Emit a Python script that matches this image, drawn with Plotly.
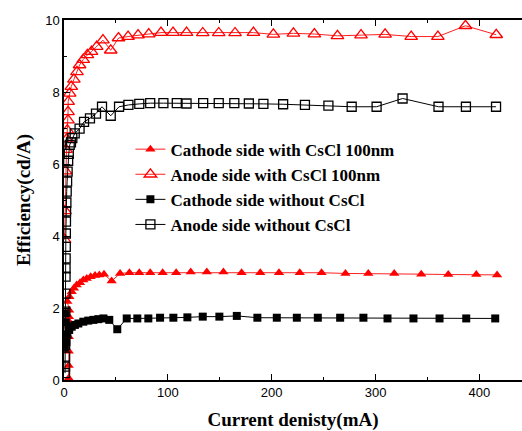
import plotly.graph_objects as go

# Cathode side with CsCl 100nm (filled red triangles)
cath_cs_x = [4.5, 4.5, 4.6, 4.7, 4.8, 4.9, 4.8, 5.0, 3.2, 5.2, 7.4, 9.6, 12.2, 15.4, 18.6, 21.9, 25.7, 29.9,
             34.0, 38.5, 45.9, 54, 63, 72.5, 83, 95, 108, 122, 137.5, 153.5, 171, 189, 207, 227, 248, 271,
             293, 318, 344, 370, 397, 417]
cath_cs_y = [0.05, 0.4, 0.8, 1.2, 1.5, 1.62, 1.76, 1.94, 2.18, 2.31, 2.45, 2.55, 2.64, 2.70, 2.78, 2.82, 2.87,
             2.90, 2.92, 2.94, 2.75, 2.96, 2.98, 2.98, 2.98, 2.98, 2.98, 3.00, 3.00, 3.00, 2.98, 2.98, 2.98,
             2.98, 2.98, 2.96, 2.96, 2.96, 2.94, 2.93, 2.93, 2.92]

# Anode side with CsCl 100nm (open red triangles)
an_cs_x = [0.6, 1.0, 1.5, 2.0, 2.6, 3.2, 3.8, 3.9, 4.0, 5.5, 7.0, 9.5, 12.5, 15, 18.5, 22.5, 26.5, 31.5,
           37.5, 45, 52.5, 61.7, 71.3, 81.6, 93.4, 105, 118, 133.6, 149, 164.7, 182.4, 201.6, 220.9, 241.1,
           263.3, 286, 309.2, 334.3, 360, 386.6, 416.2]
an_cs_y = [3.9, 4.7, 5.8, 6.4, 6.69, 6.94, 7.22, 7.45, 7.73, 7.96, 8.15, 8.35, 8.56, 8.75, 8.9, 9.03, 9.12, 9.26,
           9.44, 9.16, 9.5, 9.54, 9.58, 9.61, 9.65, 9.65, 9.65, 9.64, 9.64, 9.64, 9.65, 9.60, 9.63, 9.61,
           9.56, 9.58, 9.60, 9.54, 9.54, 9.84, 9.59]

# Cathode side without CsCl (filled black squares)
cath_x = [0.8, 1.2, 1.6, 2.0, 2.4, 3.2, 5.0, 7.4, 10.5, 13.8, 18.6, 23.4, 28.3, 33, 38, 43.6, 51.3, 60.4,
          70.6, 81.2, 92.5, 105.3, 118.8, 133.6, 149.6, 166.4, 186.2, 204.9, 224.2, 244.4, 265.9, 288.3,
          311.5, 336.5, 361.6, 387.3, 415.2]
cath_y = [0.9, 1.85, 1.6, 1.2, 1.06, 1.25, 1.39, 1.48, 1.53, 1.57, 1.62, 1.65, 1.67, 1.69, 1.71, 1.67, 1.41,
          1.71, 1.71, 1.71, 1.73, 1.73, 1.74, 1.76, 1.76, 1.78, 1.73, 1.73, 1.73, 1.73, 1.73, 1.73,
          1.71, 1.71, 1.71, 1.71, 1.71]

# Anode side without CsCl (open black squares)
an_x = [1.0, 1.0, 1.1, 1.1, 1.2, 1.3, 1.4, 1.5, 1.5, 1.6, 1.7, 1.8, 1.9, 2.0, 2.3, 2.6, 3.0, 3.5, 4.0, 4.6,
        5.5, 6.7, 8.0, 10.3, 15, 19.3, 25, 30.8, 36.6, 45, 53, 62, 72.5, 83, 95.7, 108.6, 118, 134, 149,
        164, 178, 192, 211, 232, 254.6, 277, 301, 326, 360.6, 387, 416]
an_y = [0.19, 0.37, 0.65, 0.97, 1.48, 1.9, 2.4, 2.87, 3.1, 3.38, 3.7, 4.07, 4.4, 4.68, 4.93, 5.23, 5.51, 5.79,
        6.09, 6.28, 6.53, 6.6, 6.72, 6.85, 6.98, 7.17, 7.27, 7.4, 7.59, 7.34, 7.59, 7.64, 7.67, 7.69, 7.69,
        7.69, 7.68, 7.69, 7.69, 7.69, 7.68, 7.67, 7.66, 7.64, 7.62, 7.59, 7.59, 7.82, 7.59, 7.59, 7.59]

names = ["Cathode side with CsCl 100nm", "Anode side with CsCl 100nm",
         "Cathode side without CsCl", "Anode side without CsCl"]

fig = go.Figure()
RED = "#ff2020"
fig.add_trace(go.Scatter(x=cath_cs_x, y=cath_cs_y, name=names[0], mode="lines+markers",
                         line=dict(color=RED, width=1),
                         marker=dict(symbol="triangle-up", size=9, color="red")))
fig.add_trace(go.Scatter(x=an_cs_x, y=an_cs_y, name=names[1], mode="lines+markers",
                         line=dict(color=RED, width=1),
                         marker=dict(symbol="triangle-up-open", size=11, color="red", line=dict(width=1.3))))
fig.add_trace(go.Scatter(x=cath_x, y=cath_y, name=names[2], mode="lines+markers",
                         line=dict(color="black", width=1),
                         marker=dict(symbol="square", size=8, color="black")))
fig.add_trace(go.Scatter(x=an_x, y=an_y, name=names[3], mode="lines+markers",
                         line=dict(color="black", width=1),
                         marker=dict(symbol="square-open", size=9, color="black", line=dict(width=1.3))))

axis_common = dict(showgrid=False, zeroline=False, showline=True, linecolor="black", linewidth=1.5,
                   ticks="inside", tickcolor="black", ticklen=6, tickwidth=1.2,
                   tickfont=dict(family="Liberation Sans, Arial", size=13, color="black"))
title_font = dict(family="Liberation Serif, Times New Roman", size=19, color="black")

fig.update_xaxes(range=[0, 441], dtick=100, tick0=0, mirror="ticks",
                 minor=dict(dtick=50, ticks="inside", ticklen=3, tickcolor="black"),
                 title=dict(text="<b>Current denisty(mA)</b>", standoff=16, font=title_font),
                 **axis_common)
fig.update_yaxes(range=[0, 10], dtick=2, tick0=0, mirror=False,
                 minor=dict(dtick=1, ticks="inside", ticklen=3, tickcolor="black"),
                 title=dict(text="<b>Efficiency(cd/A)</b>", standoff=10, font=title_font),
                 **axis_common)

fig.update_layout(
    width=522, height=431,
    margin=dict(l=64, r=0, t=20, b=51),
    plot_bgcolor="white", paper_bgcolor="white",
    showlegend=True,
    legend=dict(x=0.145, y=0.69, xanchor="left", yanchor="top", bgcolor="rgba(0,0,0,0)",
                font=dict(family="Liberation Serif, Times New Roman", size=17, color="black"),
                tracegroupgap=0, itemwidth=30),
)
for tr in fig.data:
    tr.name = "<b>" + tr.name + "</b>"

fig.write_html("out.html")
